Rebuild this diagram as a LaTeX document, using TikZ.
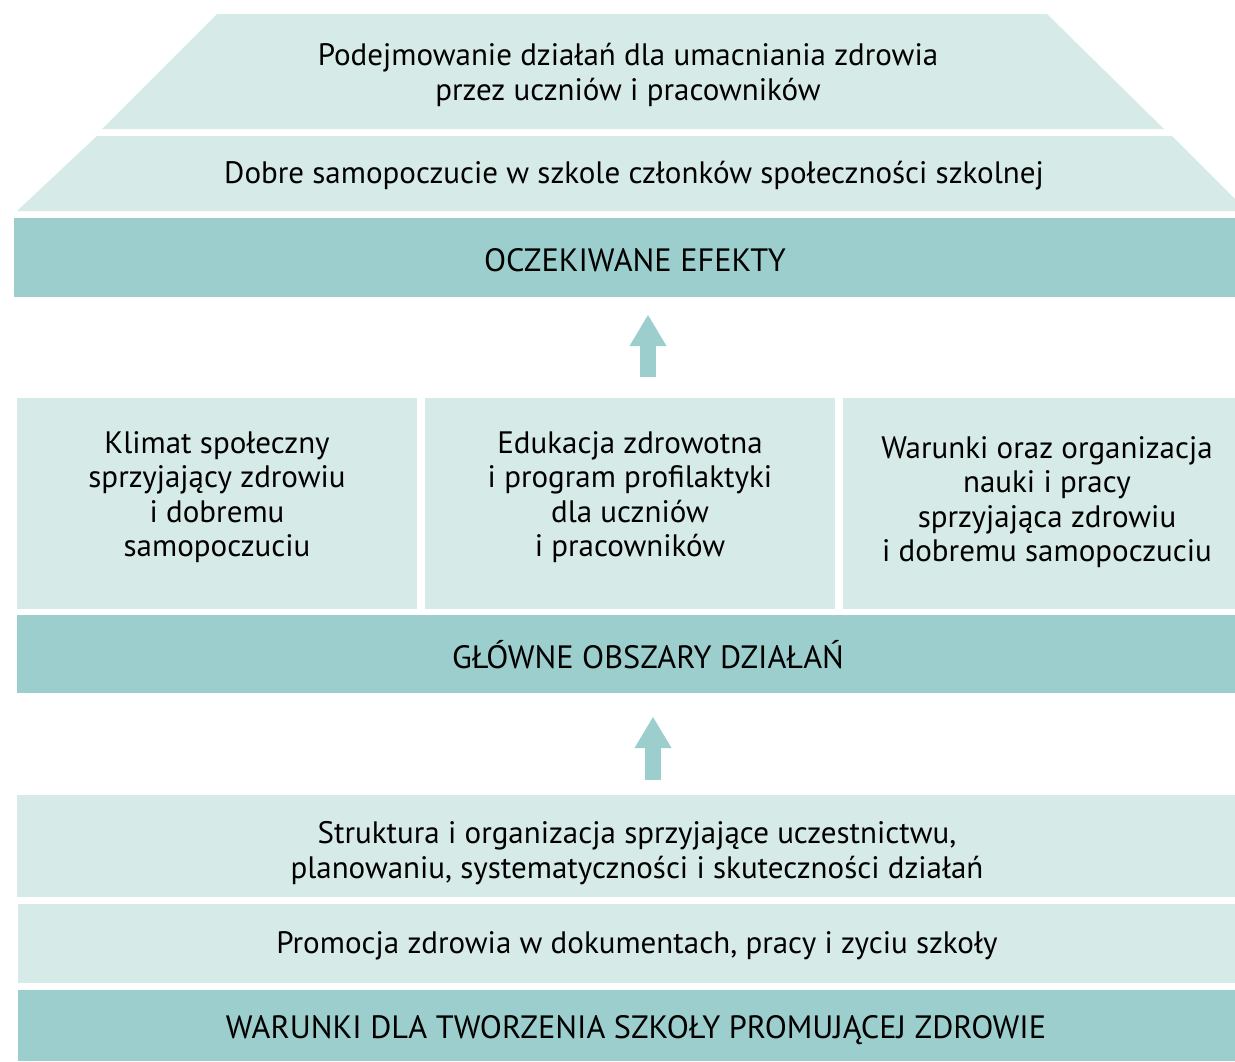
\documentclass[tikz,border=0pt]{standalone}
\usepackage{fontspec}
\setmainfont{PT Sans}
\usepackage{tikz}
\usetikzlibrary{arrows.meta}
\definecolor{lightteal}{HTML}{D6EAE7}
\definecolor{darkteal}{HTML}{9BCECC}

\begin{document}
\begin{tikzpicture}[x=1pt,y=-1pt,
  txt/.style={inner sep=0pt,align=center,text=black,font=\fontsize{31}{34.5}\selectfont},
  caps/.style={txt,font=\fontsize{32.3}{34.5}\selectfont},
  uparrow/.style={draw=darkteal,line width=16pt,-{Triangle[width=37pt,length=31pt,line width=0pt]}}]
\useasboundingbox (0,0) rectangle (1235,1061);
% effects (roof)
\fill[lightteal] (217,14) -- (1047,14) -- (1164,129) -- (102,129) -- cycle;
\fill[lightteal] (97,136) -- (1172,136) -- (1235,199) -- (1235,211) -- (17,211) -- cycle;
\fill[darkteal] (14,218) rectangle (1235,297);
\node[txt] (podejm) at (628,75) {Podejmowanie działań dla umacniania zdrowia\\przez uczniów i pracowników};
\node[txt] (dobre) at (634,176) {Dobre samopoczucie w szkole członków społeczności szkolnej};
\node[caps] (efekty) at (635,260) {OCZEKIWANE EFEKTY};
% main areas
\fill[lightteal] (17,398) rectangle (417,609);
\fill[lightteal] (425,398) rectangle (835,609);
\fill[lightteal] (843,398) rectangle (1235,609);
\fill[darkteal] (17,615) rectangle (1235,693);
\node[txt] (klimat) at (217,497) {Klimat społeczny\\sprzyjający zdrowiu\\i dobremu\\samopoczuciu};
\node[txt] (edukacja) at (630,497) {Edukacja zdrowotna\\i program profilaktyki\\dla uczniów\\i pracowników};
\node[txt] (warunki) at (1047,502) {Warunki oraz organizacja\\nauki i pracy\\sprzyjająca zdrowiu\\i dobremu samopoczuciu};
\node[caps] (obszary) at (648,655) {GŁÓWNE OBSZARY DZIAŁAŃ};
% conditions
\fill[lightteal] (17,795) rectangle (1235,897);
\fill[lightteal] (18,904) rectangle (1235,983);
\fill[darkteal] (18,990) rectangle (1235,1061);
\node[txt] (struktura) at (637,853) {Struktura i organizacja sprzyjające uczestnictwu,\\planowaniu, systematyczności i skuteczności działań};
\node[txt] (promocja) at (637,946) {Promocja zdrowia w dokumentach, pracy i zyciu szkoły};
\node[caps] (tworzenie) at (636,1030) {WARUNKI DLA TWORZENIA SZKOŁY PROMUJĄCEJ ZDROWIE};
% arrows
\coordinate (upA) at (648,377);
\coordinate (upAend) at (648,315);
\coordinate (upB) at (653,780);
\coordinate (upBend) at (653,717);
\draw[uparrow] (upA) -- (upAend);
\draw[uparrow] (upB) -- (upBend);
\end{tikzpicture}
\end{document}
